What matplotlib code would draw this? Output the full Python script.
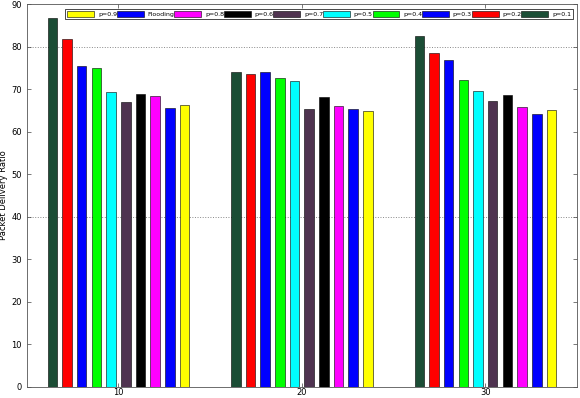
import numpy as np
import matplotlib
matplotlib.use("Agg")
import matplotlib.pyplot as plt

groups = [10, 20, 30]
series = ['p=0.1', 'p=0.2', 'p=0.3', 'p=0.4', 'p=0.5', 'p=0.7', 'p=0.6', 'p=0.8', 'Flooding', 'p=0.9']
colors = ['#1b4d35', '#ff0000', '#0000ff', '#00ff00', '#00ffff', '#4f3350', '#000000', '#ff00ff', '#0000ff', '#ffff00']

# one list per series: values at 10, 20, 30
p01 = [86.9, 74.0, 82.6]
p02 = [81.9, 73.6, 78.5]
p03 = [75.6, 74.2, 76.8]
p04 = [75.1, 72.6, 72.2]
p05 = [69.3, 71.9, 69.6]
p07 = [67.0, 65.3, 67.3]
p06 = [68.9, 68.3, 68.6]
p08 = [68.5, 66.2, 65.8]
flooding = [65.6, 65.3, 64.2]
p09 = [66.4, 64.9, 65.1]
values = [p01, p02, p03, p04, p05, p07, p06, p08, flooding, p09]

fig = plt.figure(figsize=(5.8, 3.98), dpi=100)
ax = fig.add_axes([0.046, 0.028, 0.949, 0.961])

n = len(series)
step = 0.8
width = 0.52
x = np.array(groups, dtype=float)
handles = []
for i in range(n):
    off = (i - (n - 1) / 2) * step
    b = ax.bar(x + off, values[i], width=width, color=colors[i],
               edgecolor='black', linewidth=0.4, zorder=3)
    handles.append(b)

ax.axhline(40, color='#888888', linestyle=':', linewidth=0.7, zorder=1)
ax.axhline(80, color='#888888', linestyle=':', linewidth=0.7, zorder=1)

ax.set_xlim(5, 35)
ax.set_ylim(0, 90)
ax.set_xticks(groups)
ax.set_yticks(range(0, 91, 10))
ax.tick_params(direction='in', top=True, right=True, labelsize=6,
               length=3, width=0.5, colors='#444444', labelcolor='black')
ax.tick_params(axis='x', pad=1)
for s in ax.spines.values():
    s.set_linewidth(0.6)
    s.set_color('#555555')
ax.set_ylabel('Packet Delivery Ratio', fontsize=6, labelpad=2)

ax.legend(handles[::-1], series[::-1], ncol=10, loc='lower left',
          bbox_to_anchor=(0.07, 0.961, 0.923, 0.033), mode='expand',
          fontsize=4.5, handlelength=4.3, handleheight=0.9, borderpad=0.35,
          handletextpad=0.6, columnspacing=1.0, fancybox=False,
          edgecolor='black', framealpha=1, borderaxespad=0)
ax.get_legend().get_frame().set_linewidth(0.5)

fig.savefig('out.png', dpi=100)
